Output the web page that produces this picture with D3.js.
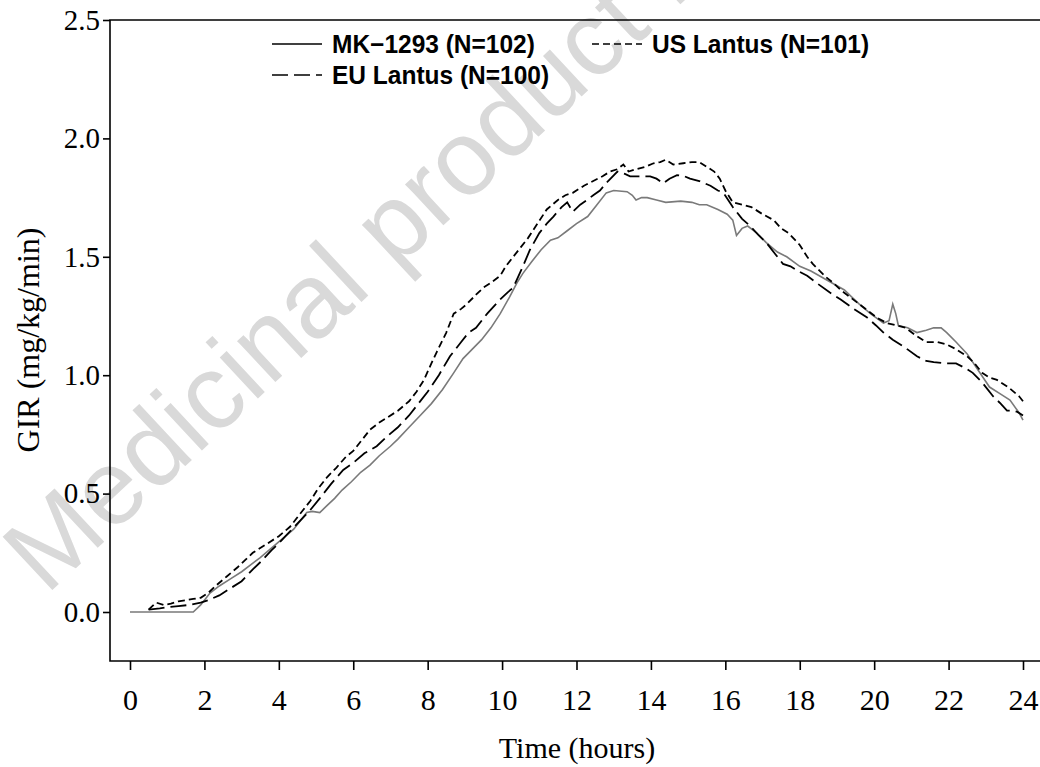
<!DOCTYPE html>
<html>
<head>
<meta charset="utf-8">
<script src="https://cdn.jsdelivr.net/npm/d3@7"></script>
<style>
  html, body { margin: 0; padding: 0; background: #fff; }
  svg { display: block; }
</style>
</head>
<body>
<svg id="chart" width="1040" height="767"></svg>
<script>
// Mean glucose infusion rate profiles, [hours, mg/kg/min]
const mk1293 = [
  [0,0],[1.7,0],[1.9,0.03],[2.15,0.08],[2.4,0.11],[2.7,0.14],[3.0,0.17],[3.25,0.20],[3.5,0.23],
  [3.8,0.27],[4.1,0.31],[4.4,0.35],[4.6,0.39],[4.75,0.42],[4.9,0.425],[5.1,0.42],[5.3,0.45],
  [5.5,0.48],[5.7,0.515],[5.95,0.55],[6.2,0.59],[6.45,0.62],[6.7,0.66],[7.0,0.70],[7.2,0.73],
  [7.5,0.78],[7.8,0.83],[8.1,0.88],[8.4,0.94],[8.7,1.01],[8.95,1.07],[9.2,1.11],[9.45,1.15],
  [9.7,1.20],[9.95,1.26],[10.2,1.33],[10.4,1.39],[10.56,1.43],[10.8,1.48],[11.05,1.53],[11.3,1.57],
  [11.5,1.58],[11.75,1.61],[12.0,1.64],[12.3,1.67],[12.55,1.72],[12.8,1.77],[13.0,1.78],[13.36,1.775],
  [13.5,1.76],[13.6,1.74],[13.75,1.75],[13.9,1.75],[14.15,1.74],[14.4,1.73],[14.8,1.735],[15.1,1.73],
  [15.3,1.72],[15.5,1.72],[15.8,1.70],[16.05,1.68],[16.2,1.655],[16.3,1.59],[16.45,1.62],[16.6,1.63],
  [16.85,1.60],[17.1,1.56],[17.4,1.52],[17.65,1.50],[18.0,1.46],[18.3,1.44],[18.75,1.40],[19.2,1.36],
  [19.4,1.33],[19.6,1.30],[19.9,1.26],[20.25,1.22],[20.4,1.23],[20.5,1.30],[20.58,1.26],[20.65,1.21],
  [20.9,1.20],[21.15,1.18],[21.4,1.19],[21.6,1.20],[21.8,1.20],[21.95,1.18],[22.2,1.14],[22.5,1.09],
  [22.8,1.02],[23.1,0.95],[23.4,0.92],[23.65,0.895],[23.9,0.84],[24.0,0.81]
];
const usLantus = [
  [0.5,0.01],[0.7,0.04],[0.9,0.03],[1.1,0.035],[1.3,0.045],[1.5,0.05],[1.7,0.055],[1.9,0.06],
  [2.1,0.08],[2.3,0.11],[2.6,0.15],[2.9,0.19],[3.1,0.22],[3.3,0.25],[3.5,0.27],[3.7,0.29],[4.0,0.32],
  [4.3,0.36],[4.5,0.40],[4.7,0.44],[4.85,0.47],[5.05,0.52],[5.3,0.57],[5.55,0.61],[5.8,0.655],
  [6.0,0.68],[6.2,0.72],[6.45,0.77],[6.7,0.80],[6.9,0.82],[7.2,0.85],[7.5,0.89],[7.7,0.93],[7.9,0.98],
  [8.1,1.05],[8.25,1.10],[8.5,1.18],[8.7,1.26],[8.9,1.28],[9.05,1.30],[9.3,1.34],[9.5,1.37],[9.7,1.39],
  [9.95,1.42],[10.1,1.46],[10.3,1.50],[10.5,1.54],[10.7,1.58],[10.95,1.64],[11.2,1.70],[11.5,1.74],
  [11.7,1.76],[11.9,1.77],[12.2,1.80],[12.45,1.82],[12.7,1.84],[12.9,1.86],[13.1,1.87],[13.26,1.89],
  [13.4,1.86],[13.6,1.87],[13.85,1.88],[14.07,1.895],[14.25,1.90],[14.4,1.91],[14.6,1.89],[14.87,1.895],
  [15.1,1.90],[15.3,1.90],[15.5,1.88],[15.7,1.86],[15.85,1.83],[16.0,1.78],[16.2,1.73],[16.45,1.72],
  [16.7,1.71],[17.0,1.68],[17.3,1.655],[17.5,1.62],[17.7,1.60],[18.0,1.55],[18.2,1.50],[18.35,1.47],
  [18.7,1.415],[18.9,1.39],[19.1,1.36],[19.35,1.33],[19.6,1.30],[19.85,1.27],[20.1,1.24],[20.35,1.22],
  [20.6,1.21],[20.85,1.20],[21.1,1.17],[21.4,1.14],[21.7,1.14],[21.95,1.13],[22.2,1.11],[22.5,1.08],
  [22.7,1.05],[22.9,1.01],[23.1,0.99],[23.3,0.98],[23.6,0.95],[23.9,0.91],[24.0,0.89]
];
const euLantus = [
  [0.5,0.01],[0.8,0.015],[1.0,0.02],[1.3,0.025],[1.6,0.03],[1.9,0.04],[2.1,0.05],[2.4,0.07],[2.7,0.10],
  [3.0,0.13],[3.3,0.18],[3.5,0.21],[3.8,0.26],[4.0,0.29],[4.3,0.34],[4.6,0.39],[4.84,0.43],[5.1,0.48],
  [5.4,0.54],[5.73,0.60],[6.0,0.63],[6.3,0.67],[6.63,0.70],[6.9,0.74],[7.2,0.78],[7.5,0.83],[7.75,0.88],
  [8.0,0.93],[8.3,1.0],[8.6,1.08],[8.9,1.14],[9.1,1.18],[9.3,1.20],[9.6,1.26],[9.95,1.32],[10.15,1.35],
  [10.3,1.37],[10.56,1.46],[10.75,1.53],[11.0,1.60],[11.2,1.64],[11.38,1.67],[11.6,1.71],[11.75,1.73],
  [11.9,1.69],[12.1,1.72],[12.28,1.74],[12.45,1.76],[12.63,1.78],[12.85,1.82],[13.1,1.86],[13.3,1.85],
  [13.44,1.84],[13.7,1.84],[13.98,1.84],[14.15,1.83],[14.33,1.81],[14.5,1.83],[14.7,1.845],[14.9,1.84],
  [15.05,1.83],[15.3,1.82],[15.6,1.80],[15.8,1.78],[15.95,1.77],[16.2,1.71],[16.45,1.66],[16.67,1.63],
  [16.9,1.59],[17.1,1.56],[17.35,1.51],[17.55,1.47],[17.75,1.46],[17.9,1.445],[18.2,1.42],[18.45,1.39],
  [18.8,1.35],[19.1,1.32],[19.45,1.28],[19.8,1.245],[20.05,1.21],[20.25,1.18],[20.5,1.15],[20.8,1.12],
  [21.15,1.08],[21.4,1.06],[21.6,1.055],[21.9,1.05],[22.2,1.05],[22.45,1.03],[22.65,1.01],[22.9,0.97],
  [23.2,0.91],[23.4,0.88],[23.57,0.85],[23.75,0.85],[23.85,0.845],[24.0,0.83]
];

const seriesNames = ["MK\u22121293 (N=102)", "US Lantus (N=101)", "EU Lantus (N=100)"];
const xTicks = [0, 2, 4, 6, 8, 10, 12, 14, 16, 18, 20, 22, 24];
const yTicks = [0.0, 0.5, 1.0, 1.5, 2.0, 2.5];
const xTitle = "Time (hours)";
const yTitle = "GIR (mg/kg/min)";
const watermark = "Medicinal product no longer authorised";

const svg = d3.select("#chart");
const frame = { left: 110, top: 20, bottom: 661, right: 1040 };

const x = d3.scaleLinear().domain([0, 24]).range([130, 1023]);
const y = d3.scaleLinear().domain([0, 2.5]).range([612, 20]);

const serif = "'Liberation Serif', 'Times New Roman', serif";
const sans = "'Liberation Sans', Arial, sans-serif";

// watermark behind the plot
svg.append("text")
  .attr("transform", "translate(46,596) rotate(-43)")
  .attr("font-family", sans)
  .attr("font-size", 106)
  .attr("fill", "#d9d9d9")
  .text(watermark);

// frame: left, top and bottom edges
const frameG = svg.append("g").attr("stroke", "#000").attr("stroke-width", 1.6).attr("fill", "none");
frameG.append("path").attr("d", `M${frame.right},${frame.top}H${frame.left}V${frame.bottom}H${frame.right}`);

// y axis
const yAxis = svg.append("g")
  .attr("transform", `translate(${frame.left},0)`)
  .call(d3.axisLeft(y).tickValues(yTicks).tickFormat(d3.format(".1f")).tickSize(7).tickPadding(3).tickSizeOuter(0));
yAxis.select(".domain").remove();
yAxis.selectAll(".tick line").attr("stroke-width", 1.6);
yAxis.selectAll(".tick text").attr("font-family", serif).attr("font-size", 29).attr("fill", "#000");

// x axis
const xAxis = svg.append("g")
  .attr("transform", `translate(0,${frame.bottom})`)
  .call(d3.axisBottom(x).tickValues(xTicks).tickFormat(d3.format("d")).tickSize(9).tickPadding(19).tickSizeOuter(0));
xAxis.select(".domain").remove();
xAxis.selectAll(".tick line").attr("stroke-width", 1.6);
xAxis.selectAll(".tick text").attr("font-family", serif).attr("font-size", 30).attr("fill", "#000");

// axis titles
svg.append("text")
  .attr("x", 577).attr("y", 758)
  .attr("text-anchor", "middle")
  .attr("font-family", serif).attr("font-size", 30)
  .text(xTitle);
svg.append("text")
  .attr("transform", "translate(39,340) rotate(-90)")
  .attr("text-anchor", "middle")
  .attr("font-family", serif).attr("font-size", 32)
  .text(yTitle);

// curves
const line = d3.line().x(d => x(d[0])).y(d => y(d[1]));
const styles = [
  { data: mk1293, stroke: "#7a7a7a", width: 1.6, dash: null },
  { data: usLantus, stroke: "#000", width: 1.8, dash: "7,4" },
  { data: euLantus, stroke: "#000", width: 1.8, dash: "16,6" }
];
const curves = svg.append("g").attr("fill", "none");
styles.forEach(s => {
  curves.append("path")
    .datum(s.data)
    .attr("d", line)
    .attr("stroke", s.stroke)
    .attr("stroke-width", s.width)
    .attr("stroke-dasharray", s.dash);
});

// legend
const legendItems = [
  { name: seriesNames[0], lx: 272, ly: 44, style: styles[0] },
  { name: seriesNames[1], lx: 592, ly: 44, style: styles[1] },
  { name: seriesNames[2], lx: 272, ly: 75, style: styles[2] }
];
const legend = svg.append("g");
legendItems.forEach(it => {
  legend.append("line")
    .attr("x1", it.lx).attr("x2", it.lx + 50)
    .attr("y1", it.ly).attr("y2", it.ly)
    .attr("stroke", "#000")
    .attr("stroke-width", 1.6)
    .attr("stroke-dasharray", it.style.dash);
  legend.append("text")
    .attr("x", it.lx + 60).attr("y", it.ly + 9)
    .attr("font-family", sans).attr("font-weight", "bold").attr("font-size", 25)
    .attr("transform", `translate(${it.lx + 60},0) scale(0.98,1) translate(${-(it.lx + 60)},0)`)
    .text(it.name);
});
</script>
</body>
</html>
